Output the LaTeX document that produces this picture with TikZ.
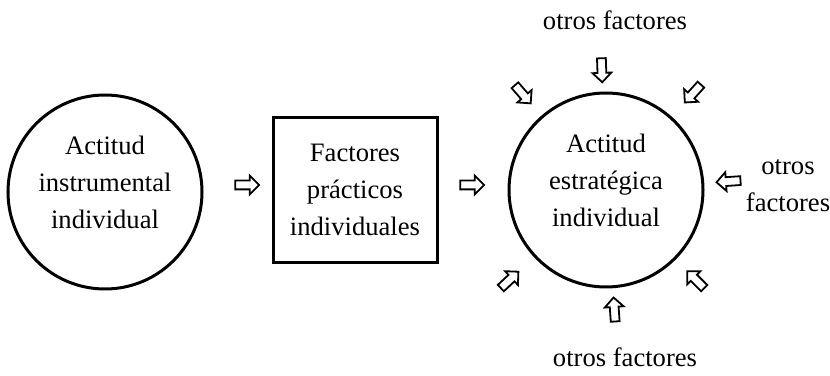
\documentclass[tikz,border=0pt]{standalone}
\usepackage{fontspec}
\setmainfont{Liberation Serif}
\usetikzlibrary{shapes.arrows,calc}
\begin{document}
\begin{tikzpicture}[x=0.5pt,y=0.5pt,
  every node/.style={font=\fontsize{13.3}{18.5}\selectfont,align=center},
  ring/.style={circle,draw,line width=1.5pt,minimum size=97pt,inner sep=0pt},
  caja/.style={rectangle,draw,line width=1.5pt,minimum width=82pt,minimum height=72.5pt},
  flecha/.style={single arrow,draw,line width=.9pt,minimum height=12pt,minimum width=8.5pt,single arrow head extend=2.5pt,inner sep=1.75pt}]
  \useasboundingbox (0,0) rectangle (830,375);
  \node[ring] (inst) at (105,183) {};
  \node (insttxt) at ($(inst)+(0,10)$) {Actitud\\instrumental\\individual};
  \node[caja] (prac) at (355,185) {Factores\\pr\'acticos\\individuales};
  \node[ring] (estr) at (606,185) {};
  \node (estrtxt) at ($(estr)+(0,10)$) {Actitud\\estrat\'egica\\individual};
  \node[flecha] (f1) at (245,190) {};
  \node[flecha] (f2) at (470,190) {};
  \foreach \ang/\rad [count=\i] in {92/122,131/129,48/132,4/125,223/134,315/129,274/122}
    \node[flecha,rotate=\ang+180] (o\i) at ($(estr)+(\ang:\rad)$) {};
  \node (arriba) at (615,355) {otros factores};
  \node (lado) at (788,189) {otros\\factores};
  \node (abajo) at (625,18) {otros factores};
\end{tikzpicture}
\end{document}
